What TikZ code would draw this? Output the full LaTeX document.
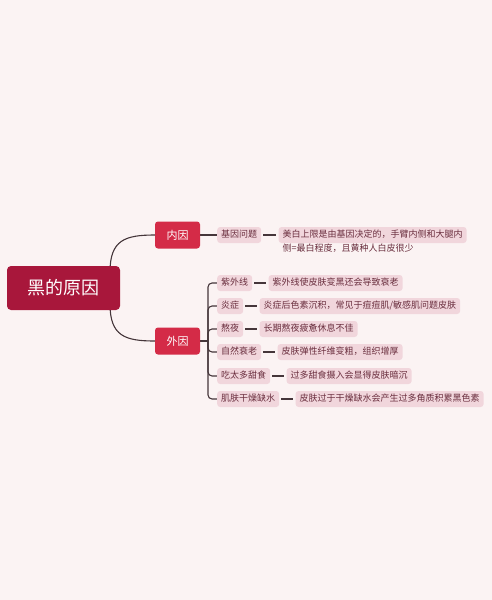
\documentclass[tikz,border=0pt]{standalone}
\usepackage{fontspec}
\setmainfont{Noto Sans CJK SC}
\usetikzlibrary{positioning}
\pgfdeclarelayer{bgl}
\pgfdeclarelayer{edges}
\pgfsetlayers{bgl,edges,main}
\definecolor{bgc}{HTML}{FBF3F3}
\definecolor{rootred}{HTML}{A8173B}
\definecolor{midred}{HTML}{D42B47}
\definecolor{leafpink}{HTML}{F1D6DC}
\definecolor{leaftext}{HTML}{6A2E3E}
\definecolor{linec}{HTML}{45363A}
\tikzset{
  rootbox/.style={fill=rootred, rounded corners=4pt, text=white, font=\fontsize{18}{22}\selectfont,
    minimum width=113pt, minimum height=44pt, inner sep=0pt},
  midbox/.style={fill=midred, rounded corners=3pt, text=white, font=\fontsize{11}{13}\selectfont,
    minimum width=45pt, minimum height=27pt, inner sep=0pt},
  leafbox/.style={fill=leafpink, rounded corners=3pt, text=leaftext, font=\fontsize{9}{14}\selectfont,
    inner xsep=4pt, inner ysep=3.5pt, text height=7pt, text depth=2pt},
  conn/.style={draw=linec, line width=1.1pt},
}
\begin{document}
\begin{tikzpicture}[x=1pt,y=-1pt]
\begin{pgfonlayer}{bgl}
\fill[bgc] (0,0) rectangle (492,600);
\end{pgfonlayer}
\useasboundingbox (0,0) rectangle (492,600);

\node[rootbox] (root) at (63.5,288) {黑的原因};
\node[midbox] (nei) at (177.5,235) {内因};
\node[midbox] (wai) at (177.5,341) {外因};

\coordinate (rt) at (110,272);
\coordinate (rb) at (110,304);

% internal
\node[leafbox, anchor=west] (jy) at (217,235) {基因问题};
\node[leafbox, right=17pt of jy, align=left, text width=180pt, text height=7pt, text depth=2pt] (jyd)
  {美白上限是由基因决定的，手臂内侧和大腿内\\侧=最白程度，且黄种人白皮很少};

% external
\coordinate (br) at (208,341);
\node[leafbox, anchor=west] (c1) at (217,283) {紫外线};
\node[leafbox, anchor=west] (c2) at (217,306) {炎症};
\node[leafbox, anchor=west] (c3) at (217,329) {熬夜};
\node[leafbox, anchor=west] (c4) at (217,352) {自然衰老};
\node[leafbox, anchor=west] (c5) at (217,376) {吃太多甜食};
\node[leafbox, anchor=west] (c6) at (217,399) {肌肤干燥缺水};

\node[leafbox, right=16pt of c1] (d1) {紫外线使皮肤变黑还会导致衰老};
\node[leafbox, right=16pt of c2] (d2) {炎症后色素沉积，常见于痘痘肌/敏感肌问题皮肤};
\node[leafbox, right=16pt of c3] (d3) {长期熬夜疲惫休息不佳};
\node[leafbox, right=16pt of c4] (d4) {皮肤弹性纤维变粗，组织增厚};
\node[leafbox, right=16pt of c5] (d5) {过多甜食摄入会显得皮肤暗沉};
\node[leafbox, right=16pt of c6] (d6) {皮肤过于干燥缺水会产生过多角质积累黑色素};

\begin{pgfonlayer}{edges}
\draw[conn] (rt) .. controls (110,240) and (125,235) .. (nei.west);
\draw[conn] (rb) .. controls (110,336) and (125,341) .. (wai.west);
\draw[conn] (nei.east) -- (jy.west);
\draw[conn, shorten <=2pt, shorten >=2pt] (jy.east) -- (jyd.west);
\draw[conn] (wai.east) -- (br);
\foreach \c in {c1,c2,c3,c4,c5,c6}{
  \draw[conn, rounded corners=4pt] (br) |- (\c.west);
}
\foreach \c/\d in {c1/d1,c2/d2,c3/d3,c4/d4,c5/d5,c6/d6}{
  \draw[conn, shorten <=2pt, shorten >=2pt] (\c.east) -- (\d.west);
}
\end{pgfonlayer}
\end{tikzpicture}
\end{document}
